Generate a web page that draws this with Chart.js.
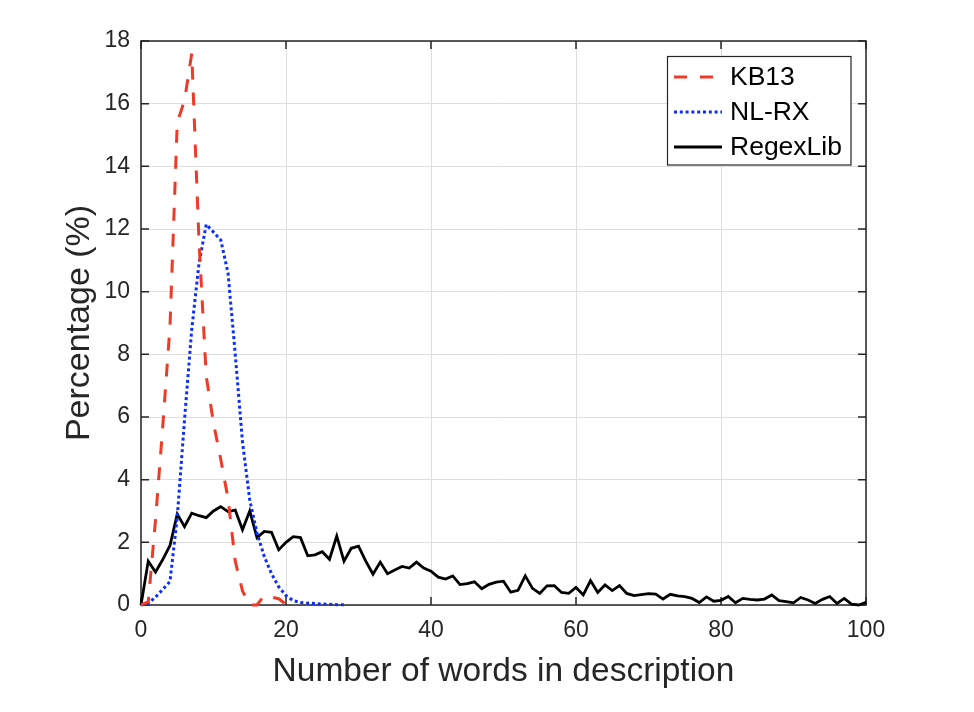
<!DOCTYPE html>
<html>
<head>
<meta charset="utf-8">
<script src="https://cdn.jsdelivr.net/npm/chart.js@4.4.1/dist/chart.umd.min.js"></script>
<style>
  html, body { margin: 0; padding: 0; background: #ffffff; }
  #c { display: block; }
</style>
</head>
<body>
<canvas id="c" width="974" height="712"></canvas>
<script>
// ---- Data (percentage of descriptions with N words) ----
const seriesNames = ['KB13', 'NL-RX', 'RegexLib'];

// KB13: word counts 0..20
const kb13Values = [0, 0.1, 2.7, 5.7, 8.9, 15.4, 16.1, 17.6, 11.6, 7.3,
                    5.8, 4.65, 3.4, 1.4, 0.45, 0, 0, 0.3, 0.25, 0.2, 0.02];

// NL-RX: word counts 0..28
const nlrxValues = [0, 0.05, 0.25, 0.5, 0.75, 2.8, 5.9, 8.8, 10.9, 12.15,
                    11.9, 11.65, 10.6, 8.0, 5.2, 3.35, 2.3, 1.55, 1.0, 0.58,
                    0.3, 0.14, 0.08, 0.06, 0.05, 0.03, 0.02, 0.01, 0.01];

// RegexLib: word counts 0..100
const regexlibValues = [0, 1.4, 1.05, 1.45, 1.9, 2.9, 2.5, 2.93, 2.85, 2.79,
                        3.0, 3.14, 2.98, 3.03, 2.4, 3.0, 2.15, 2.35, 2.32, 1.76,
                        2.0, 2.18, 2.15, 1.57, 1.6, 1.7, 1.46, 2.2, 1.4, 1.81,
                        1.88, 1.4, 0.98, 1.37, 1.0, 1.12, 1.23, 1.18, 1.37, 1.18,
                        1.08, 0.89, 0.83, 0.93, 0.65, 0.68, 0.74, 0.52, 0.66, 0.73,
                        0.76, 0.41, 0.47, 0.93, 0.53, 0.37, 0.61, 0.62, 0.40, 0.37,
                        0.56, 0.32, 0.78, 0.4, 0.64, 0.46, 0.62, 0.37, 0.3, 0.33,
                        0.36, 0.35, 0.19, 0.34, 0.29, 0.27, 0.21, 0.08, 0.26, 0.12,
                        0.15, 0.27, 0.07, 0.21, 0.18, 0.16, 0.19, 0.32, 0.14, 0.11,
                        0.07, 0.24, 0.16, 0.05, 0.18, 0.27, 0.05, 0.21, 0.03, 0.0,
                        0.09];

const xTickValues = [0, 20, 40, 60, 80, 100];
const yTickValues = [0, 2, 4, 6, 8, 10, 12, 14, 16, 18];
const xTitle = 'Number of words in description';
const yTitle = 'Percentage (%)';

// ---- Build chart ----
const toPoints = vals => vals.map((v, i) => ({ x: i, y: v }));
const FONT = "'Liberation Sans', Arial, Helvetica, sans-serif";
const TXT = '#262626';

const framePlugin = {
  id: 'frame',
  beforeDraw(chart) {
    const ctx = chart.ctx;
    ctx.save();
    ctx.fillStyle = '#ffffff';
    ctx.fillRect(0, 0, chart.width, chart.height);
    ctx.restore();
  },
  beforeDatasetsDraw(chart) {
    const { ctx, chartArea: a, scales } = chart;
    ctx.save();
    ctx.strokeStyle = TXT;
    ctx.lineWidth = 1.5;
    ctx.strokeRect(a.left, a.top, a.right - a.left, a.bottom - a.top);
    const tl = 8;
    ctx.beginPath();
    xTickValues.forEach(v => {
      const px = scales.x.getPixelForValue(v);
      ctx.moveTo(px, a.bottom); ctx.lineTo(px, a.bottom - tl);
      ctx.moveTo(px, a.top); ctx.lineTo(px, a.top + tl);
    });
    yTickValues.forEach(v => {
      const py = scales.y.getPixelForValue(v);
      ctx.moveTo(a.left, py); ctx.lineTo(a.left + tl, py);
      ctx.moveTo(a.right, py); ctx.lineTo(a.right - tl, py);
    });
    ctx.stroke();
    ctx.restore();
  },
  afterDraw(chart) {
    const ctx = chart.ctx;
    const bx = 667.5, by = 56.5, bw = 183.5, bh = 108.5;
    ctx.save();
    ctx.fillStyle = '#ffffff';
    ctx.fillRect(bx, by, bw, bh);
    ctx.strokeStyle = TXT;
    ctx.lineWidth = 1.2;
    ctx.strokeRect(bx, by, bw, bh);
    const rows = [77, 112, 147];
    chart.data.datasets.forEach((ds, i) => {
      const y = rows[i];
      ctx.beginPath();
      ctx.strokeStyle = ds.borderColor;
      ctx.lineWidth = ds.borderWidth;
      ctx.setLineDash(ds.borderDash || []);
      ctx.lineCap = 'butt';
      ctx.moveTo(674, y); ctx.lineTo(722, y);
      ctx.stroke();
      ctx.setLineDash([]);
      ctx.fillStyle = '#000000';
      ctx.font = '26.5px ' + FONT;
      ctx.textBaseline = 'middle';
      ctx.textAlign = 'left';
      ctx.fillText(ds.label, 730, y + 1);
    });
    ctx.restore();
  }
};

new Chart(document.getElementById('c'), {
  type: 'line',
  data: {
    datasets: [
      { label: seriesNames[0], data: toPoints(kb13Values), borderColor: '#ee3a26',
        borderWidth: 3, borderDash: [13, 13], borderCapStyle: 'butt' },
      { label: seriesNames[1], data: toPoints(nlrxValues), borderColor: '#0b2dff',
        borderWidth: 3, borderDash: [3, 2.8], borderCapStyle: 'butt' },
      { label: seriesNames[2], data: toPoints(regexlibValues), borderColor: '#000000',
        borderWidth: 2.8 }
    ]
  },
  options: {
    responsive: false,
    animation: false,
    devicePixelRatio: 1,
    parsing: true,
    elements: { point: { radius: 0, hoverRadius: 0 }, line: { tension: 0, fill: false } },
    datasets: { line: { clip: 6 } },
    layout: { padding: { left: 0, right: 108, top: 41, bottom: 0 } },
    plugins: { legend: { display: false }, tooltip: { enabled: false }, title: { display: false } },
    scales: {
      x: {
        type: 'linear', min: 0, max: 100,
        afterFit(s) { s.height = 107; },
        afterBuildTicks(s) { s.ticks = xTickValues.map(v => ({ value: v })); },
        ticks: { color: TXT, font: { family: FONT, size: 23 }, padding: 12, maxRotation: 0 },
        grid: { color: '#dedede', lineWidth: 1, drawTicks: false },
        border: { display: false },
        title: { display: true, text: xTitle, color: TXT,
                 font: { family: FONT, size: 33.5, lineHeight: 1 }, padding: { bottom: 23, top: 0 } }
      },
      y: {
        type: 'linear', min: 0, max: 18,
        afterFit(s) { s.width = 141; },
        afterBuildTicks(s) { s.ticks = yTickValues.map(v => ({ value: v })); },
        ticks: { color: TXT, font: { family: FONT, size: 23 }, padding: 11 },
        grid: { color: '#dedede', lineWidth: 1, drawTicks: false },
        border: { display: false },
        title: { display: true, text: yTitle, color: TXT,
                 font: { family: FONT, size: 34, lineHeight: 1 }, padding: { top: 63, bottom: 0 } }
      }
    }
  },
  plugins: [framePlugin]
});
</script>
</body>
</html>
